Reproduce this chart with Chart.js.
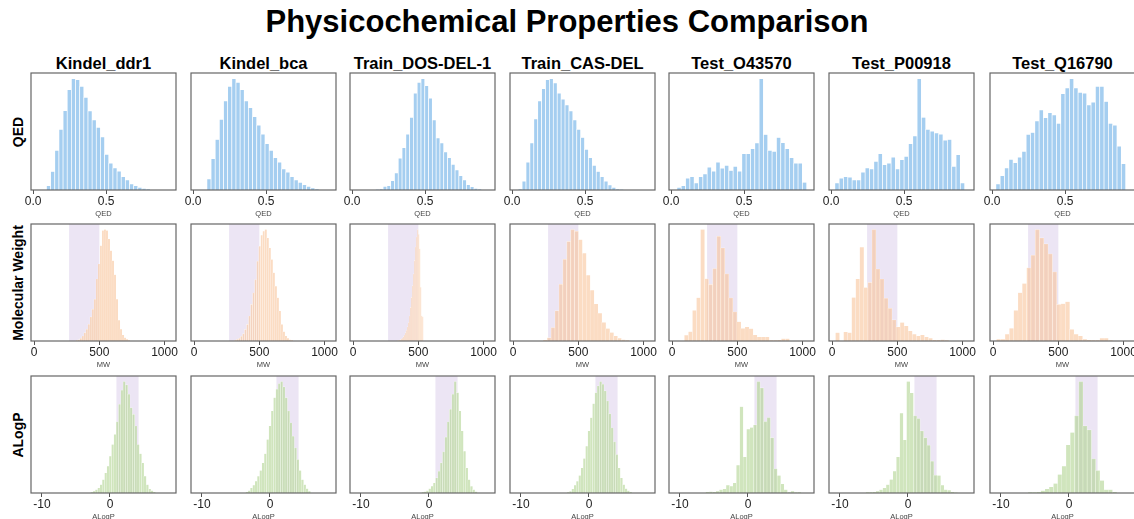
<!DOCTYPE html>
<html>
<head>
<meta charset="utf-8">
<script src="https://cdn.jsdelivr.net/npm/chart.js@4.4.0/dist/chart.umd.min.js"></script>
<style>
  html, body { margin: 0; padding: 0; background: #fff; overflow: hidden; }
  #page { position: relative; width: 1134px; height: 519px; overflow: hidden; font-family: "Liberation Sans", Arial, sans-serif; color: #000; }
  .main-title { position: absolute; left: 0; top: 4px; width: 1134px; line-height: 36px; text-align: center; font-size: 31px; font-weight: bold; }
  .col-title { position: absolute; top: 53px; width: 200px; line-height: 20px; text-align: center; font-size: 16.5px; font-weight: bold; white-space: nowrap; }
  .row-label { position: absolute; font-size: 14px; font-weight: bold; white-space: nowrap; transform: translate(-50%, -50%) rotate(-90deg); }
  canvas { position: absolute; }
</style>
</head>
<body>
<div id="page">
  <div class="main-title">Physicochemical Properties Comparison</div>
</div>
<script>
const datasetNames = ["Kindel_ddr1", "Kindel_bca", "Train_DOS-DEL-1", "Train_CAS-DEL", "Test_O43570", "Test_P00918", "Test_Q16790"];
const rowLabels = ["QED", "Molecular Weight", "ALogP"];
const axisTitles = ["QED", "MW", "ALogP"];

// QED histograms (relative counts), bins start at qedBinStart with width qedBinWidth
const qedBinStart = [0.091, 0.094, 0.16, 0.041, 0.039, 0.025, 0.025];
const qedBinWidth = [0.0285, 0.0285, 0.026, 0.0268, 0.0297, 0.0297, 0.0297];
const qedDdr1 = [13, 55, 118, 180, 236, 298, 331, 328, 308, 275, 235, 208, 186, 158, 106, 80, 66, 56, 40, 30, 18, 13, 8, 5, 2];
const qedBca = [33, 93, 150, 210, 265, 308, 331, 320, 298, 265, 245, 218, 193, 166, 138, 118, 96, 83, 63, 53, 40, 30, 23, 16, 11, 6, 2];
const qedDos = [1, 3, 11, 13, 28, 51, 95, 126, 166, 216, 288, 320, 331, 310, 273, 208, 155, 140, 113, 96, 76, 60, 43, 30, 16, 10, 5, 2];
const qedCas = [3, 26, 83, 140, 211, 265, 301, 328, 331, 318, 288, 270, 253, 235, 208, 180, 156, 121, 96, 73, 55, 40, 26, 15, 8, 3, 1];
const qedO43570 = [8, 13, 35, 40, 21, 40, 48, 68, 56, 83, 65, 73, 58, 70, 56, 108, 108, 123, 140, 331, 165, 118, 115, 156, 141, 123, 96, 80, 80, 23];
const qedP00918 = [21, 35, 40, 38, 30, 30, 53, 66, 63, 85, 108, 75, 80, 98, 63, 90, 100, 138, 161, 331, 216, 180, 175, 170, 166, 148, 150, 70, 105, 21];
const qedQ16790 = [18, 43, 66, 91, 81, 98, 115, 165, 171, 205, 238, 215, 230, 223, 198, 286, 303, 331, 303, 290, 288, 253, 261, 308, 308, 263, 198, 193, 130, 78];

// Molecular weight histograms
const mwBinStart = [320, 309, 338, 231, 94, 26, 26];
const mwBinWidth = [15.4, 15.5, 7.7, 30, 31, 31, 33];
const mwDdr1 = [2, 4, 8, 15, 25, 35, 50, 72, 95, 125, 185, 230, 285, 330, 333, 330, 305, 270, 240, 198, 125, 62, 35, 18, 10, 5, 2];
const mwBca = [2, 5, 8, 14, 22, 35, 50, 75, 110, 145, 185, 240, 285, 318, 330, 335, 310, 280, 245, 205, 165, 130, 90, 50, 28, 15, 8, 4, 2];
const mwDos = [1, 2, 3, 4, 6, 9, 13, 18, 25, 32, 42, 55, 75, 100, 130, 165, 200, 240, 280, 310, 332, 318, 275, 160, 75, 72];
const mwCas = [3, 10, 40, 90, 168, 242, 295, 330, 325, 300, 260, 195, 150, 110, 82, 55, 37, 25, 15, 8, 4, 2];
const mwO43570 = [17, 28, 92, 130, 335, 187, 170, 218, 315, 280, 202, 130, 88, 58, 38, 42, 37, 18, 12, 12, 12, 2, 2, 3, 7, 7];
const mwP00918 = [25, 0, 27, 25, 130, 185, 280, 160, 175, 333, 215, 185, 128, 98, 63, 42, 55, 45, 30, 20, 15, 18, 12, 8, 3, 3, 4, 2];
const mwQ16790 = [5, 5, 20, 38, 92, 145, 173, 220, 258, 335, 310, 292, 262, 208, 110, 112, 118, 35, 20, 15, 5, 3, 2, 2, 8, 8, 2];

// ALogP histograms
const alogpBinStart = [-2.83, -3.56, -1.07, -3.22, -6.2, -6.2, -6.0];
const alogpBinWidth = [0.34, 0.34, 0.34, 0.34, 0.5, 0.5, 0.62];
const alogpDdr1 = [2, 5, 10, 15, 25, 40, 60, 80, 110, 145, 175, 213, 265, 307, 333, 323, 295, 255, 235, 200, 145, 117, 90, 50, 25, 12, 7, 3];
const alogpBca = [3, 7, 15, 23, 35, 50, 67, 90, 117, 160, 200, 245, 285, 310, 327, 333, 317, 285, 245, 210, 170, 135, 100, 67, 40, 25, 13, 5];
const alogpDos = [2, 4, 7, 13, 20, 30, 45, 65, 90, 123, 167, 213, 250, 295, 333, 300, 245, 185, 125, 75, 40, 20, 10, 4];
const alogpCas = [2, 5, 12, 23, 35, 52, 75, 103, 140, 185, 225, 267, 300, 320, 333, 325, 305, 275, 237, 195, 153, 115, 75, 45, 25, 13, 7, 3];
const alogpO43570 = [3, 4, 3, 5, 10, 12, 23, 20, 30, 83, 257, 107, 190, 195, 203, 332, 313, 213, 225, 165, 72, 52, 27, 10, 2, 5, 2, 2];
const alogpP00918 = [2, 2, 3, 5, 10, 15, 25, 40, 65, 107, 238, 158, 332, 298, 230, 222, 185, 165, 142, 95, 53, 52, 23, 10, 8, 3, 1];
const alogpQ16790 = [2, 2, 3, 7, 12, 18, 28, 55, 80, 143, 180, 230, 332, 200, 188, 102, 67, 37, 10, 10, 3];

// drug-like reference ranges (shaded)
const mwDrugRange = [268, 500];
const alogpDrugRange = [0.95, 4.2];

// axes
const qedAxis = [-0.015, 0.98];
const mwAxis = [-24, 1088];
const alogpAxis = [-11.6, 9.7];
const qedTicks = [0, 0.5];
const qedTickLabels = ["0.0", "0.5"];
const mwTicks = [0, 500, 1000];
const mwTickLabels = ["0", "500", "1000"];
const alogpTicks = [-10, 0];
const alogpTickLabels = ["-10", "0"];

const rows = [
  { counts: [qedDdr1, qedBca, qedDos, qedCas, qedO43570, qedP00918, qedQ16790], start: qedBinStart, width: qedBinWidth,
    axis: qedAxis, ticks: qedTicks, tickLabels: qedTickLabels, band: null, color: "rgba(100,170,230,0.58)", edge: 0.7 },
  { counts: [mwDdr1, mwBca, mwDos, mwCas, mwO43570, mwP00918, mwQ16790], start: mwBinStart, width: mwBinWidth,
    axis: mwAxis, ticks: mwTicks, tickLabels: mwTickLabels, band: mwDrugRange, color: "rgba(248,188,140,0.52)", edge: 0.35 },
  { counts: [alogpDdr1, alogpBca, alogpDos, alogpCas, alogpO43570, alogpP00918, alogpQ16790], start: alogpBinStart, width: alogpBinWidth,
    axis: alogpAxis, ticks: alogpTicks, tickLabels: alogpTickLabels, band: alogpDrugRange, color: "rgba(170,208,135,0.55)", edge: 0.35 },
];

const colLefts = [31, 191, 350, 510, 669, 829, 990];
const rowTops = [73, 224, 376];
const boxW = 145, boxH = 117, padX = 14, padTop = 2, axisH = 28;

const bandPlugin = {
  id: "band",
  beforeDatasetsDraw(chart, args, opts) {
    if (!opts.range) return;
    const { ctx, chartArea, scales: { x } } = chart;
    const x0 = x.getPixelForValue(opts.range[0]);
    const x1 = x.getPixelForValue(opts.range[1]);
    ctx.save();
    ctx.fillStyle = "rgba(180,150,210,0.25)";
    ctx.fillRect(x0, chartArea.top, x1 - x0, chartArea.bottom - chartArea.top);
    ctx.restore();
  }
};

const boxPlugin = {
  id: "box",
  afterDraw(chart) {
    const { ctx, chartArea } = chart;
    ctx.save();
    ctx.strokeStyle = "#666";
    ctx.lineWidth = 1.2;
    ctx.strokeRect(chartArea.left, chartArea.top, chartArea.right - chartArea.left, chartArea.bottom - chartArea.top);
    ctx.restore();
  }
};

const page = document.getElementById("page");

datasetNames.forEach((name, c) => {
  const t = document.createElement("div");
  t.className = "col-title";
  t.style.left = (colLefts[c] + boxW / 2 - 100) + "px";
  t.textContent = name;
  page.appendChild(t);
});

rowLabels.forEach((label, r) => {
  const d = document.createElement("div");
  d.className = "row-label";
  d.style.left = "18px";
  d.style.top = (rowTops[r] + boxH / 2) + "px";
  d.textContent = label;
  page.appendChild(d);
});

rows.forEach((row, r) => {
  datasetNames.forEach((name, c) => {
    const canvas = document.createElement("canvas");
    canvas.width = boxW + 2 * padX;
    canvas.height = padTop + boxH + axisH;
    canvas.style.left = (colLefts[c] - padX) + "px";
    canvas.style.top = (rowTops[r] - padTop) + "px";
    page.appendChild(canvas);

    const counts = row.counts[c];
    const points = counts.map((v, i) => ({ x: row.start[c] + row.width[c] * (i + 0.5), y: v }));
    const peak = Math.max(...counts);

    new Chart(canvas, {
      type: "bar",
      data: {
        datasets: [{
          data: points,
          backgroundColor: row.color,
          borderColor: "rgba(255,255,255,0.85)",
          borderWidth: row.edge,
          barPercentage: 1,
          categoryPercentage: 1,
        }],
      },
      options: {
        responsive: false,
        animation: false,
        devicePixelRatio: 1,
        layout: { padding: { left: padX, right: padX, top: padTop, bottom: 0 } },
        plugins: {
          legend: { display: false },
          tooltip: { enabled: false },
          band: { range: row.band },
        },
        scales: {
          x: {
            type: "linear",
            min: row.axis[0],
            max: row.axis[1],
            offset: false,
            grid: { display: true, drawOnChartArea: false, drawTicks: true, tickLength: 4, color: "#555", offset: false },
            border: { display: false },
            ticks: {
              autoSkip: false,
              maxRotation: 0,
              padding: 0,
              color: "#222",
              font: { family: "Liberation Sans, Arial, sans-serif", size: 12 },
              callback: (value, index) => row.tickLabels[index],
            },
            title: {
              display: true,
              text: axisTitles[r],
              color: "#444",
              padding: 0,
              font: { family: "Liberation Sans, Arial, sans-serif", size: 7.5 },
            },
            afterBuildTicks: (scale) => { scale.ticks = row.ticks.map((v) => ({ value: v })); },
            afterFit: (scale) => { scale.height = axisH; },
          },
          y: { display: false, min: 0, max: peak * 1.05 },
        },
      },
      plugins: [bandPlugin, boxPlugin],
    });
  });
});
</script>
</body>
</html>
